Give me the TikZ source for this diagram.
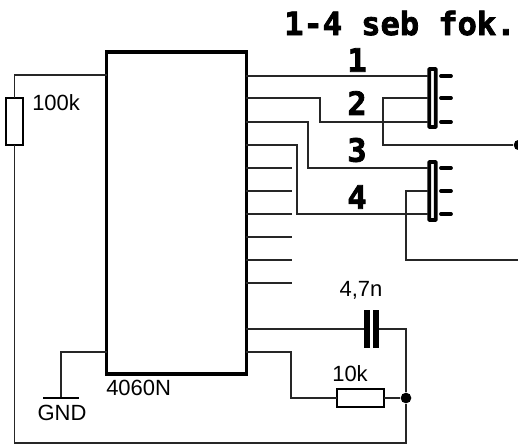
\documentclass[tikz,border=0pt]{standalone}
\usepackage{fontspec}
\setmainfont{Liberation Sans}
\newfontfamily\headfont{DejaVu Sans Mono}[BoldFont={DejaVu Sans Mono Bold},BoldFeatures={FakeBold=2.5}]
\tikzset{
	wire/.style={line width=0.8pt, color=black!85},
	pinstub/.style={line width=2.8pt, line cap=round},
	gndbar/.style={line width=1.8pt},
	chipbox/.style={draw, line width=2.4pt, inner sep=0pt, outer sep=0pt, minimum width=104.5pt, minimum height=241.5pt},
	switchbox/.style={draw, line width=2.8pt, rounded corners=0.5pt, inner sep=0pt, outer sep=0pt, minimum width=5pt, minimum height=43.5pt},
	resbox/.style={draw, line width=1.4pt, fill=white, inner sep=0pt, outer sep=0pt},
	plate/.style={fill=black, inner sep=0pt, outer sep=0pt, minimum width=4.2pt, minimum height=28pt},
	junction/.style={circle, fill=black, inner sep=0pt, minimum size=8pt},
	label/.style={font=\fontsize{16.5}{19}\selectfont, inner sep=0pt},
	headlabel/.style={font=\headfont\bfseries\fontsize{24}{26}\selectfont, inner sep=0pt}
}

\begin{document}
\begin{tikzpicture}[x=0.75pt, y=-0.75pt]
		%%%%% START %%%%%
		\useasboundingbox (0, 0) rectangle (518, 444);
		
		\node[headlabel, anchor=base west] (title) at (284, 35) {1-4 seb fok.};
		
		\node[chipbox] (ic) at (176.5, 213) {};
		\node[label, anchor=north west] (icname) at (106, 380) {4060N};
		
		\node[switchbox] (swa) at (432.5, 98) {};
		\node[switchbox] (swb) at (432.5, 191) {};
		
		\node[resbox, minimum width=12.5pt, minimum height=35pt] (rlong) at (14.5, 121.5) {};
		\node[label, anchor=west] (rlonglabel) at (32, 103) {100k};
		\node[resbox, minimum width=35pt, minimum height=13pt] (rshort) at (360.5, 398) {};
		\node[label] (rshortlabel) at (350, 374) {10k};
		
		\node[plate] (capa) at (367, 329) {};
		\node[plate] (capb) at (376, 329) {};
		\node[label] (caplabel) at (361, 290) {4,7n};
		
		\node[junction] (join) at (406, 398) {};
		\node[junction] (outa) at (519, 145) {};
		\coordinate (outb) at (518, 260);
		
		\node[headlabel] (numa) at (357, 60) {1};
		\node[headlabel] (numb) at (357, 103) {2};
		\node[headlabel] (numc) at (357, 150) {3};
		\node[headlabel] (numd) at (357, 197) {4};
		
		\node[label] (gndlabel) at (62, 413) {GND};
		\coordinate (gnd) at (61, 398);
		
		\draw[wire] (rlong.north) |- (107, 75);
		\draw[wire] (rlong.south) -- (14.5, 443) -- (406, 443) -- (join);
		\draw[wire] (join) -- (rshort.east);
		\draw[wire] (join) -- (406, 329) -- (capb);
		\draw[wire] (246, 329) -- (capa);
		\draw[wire] (246, 352) -- (291, 352) |- (rshort.west);
		\draw[wire] (107, 352) -| (gnd);
		\draw[gndbar] (43, 398) -- (79, 398);
		
		\draw[wire] (246, 76) -- (428, 76);
		\draw[wire] (246, 98) -- (320, 98) -- (320, 122) -- (428, 122);
		\draw[wire] (246, 122) -- (308, 122) -- (308, 168) -- (428, 168);
		\draw[wire] (246, 145) -- (297, 145) -- (297, 214) -- (428, 214);
		\draw[wire] (246, 168) -- (292, 168);
		\draw[wire] (246, 191) -- (292, 191);
		\draw[wire] (246, 214) -- (292, 214);
		\draw[wire] (246, 237) -- (292, 237);
		\draw[wire] (246, 260) -- (292, 260);
		\draw[wire] (246, 283) -- (292, 283);
		
		\draw[wire] (428, 98) -- (383, 98) -- (383, 145) -- (outa);
		\draw[wire] (428, 191) -- (406, 191) -- (406, 260) -- (outb);
		
		\draw[pinstub] (441, 76) -- (451, 76);
		\draw[pinstub] (441, 98) -- (451, 98);
		\draw[pinstub] (441, 122) -- (451, 122);
		\draw[pinstub] (441, 168) -- (451, 168);
		\draw[pinstub] (441, 191) -- (451, 191);
		\draw[pinstub] (441, 214) -- (451, 214);
		%%%%% END %%%%%
	\end{tikzpicture}
\end{document}
